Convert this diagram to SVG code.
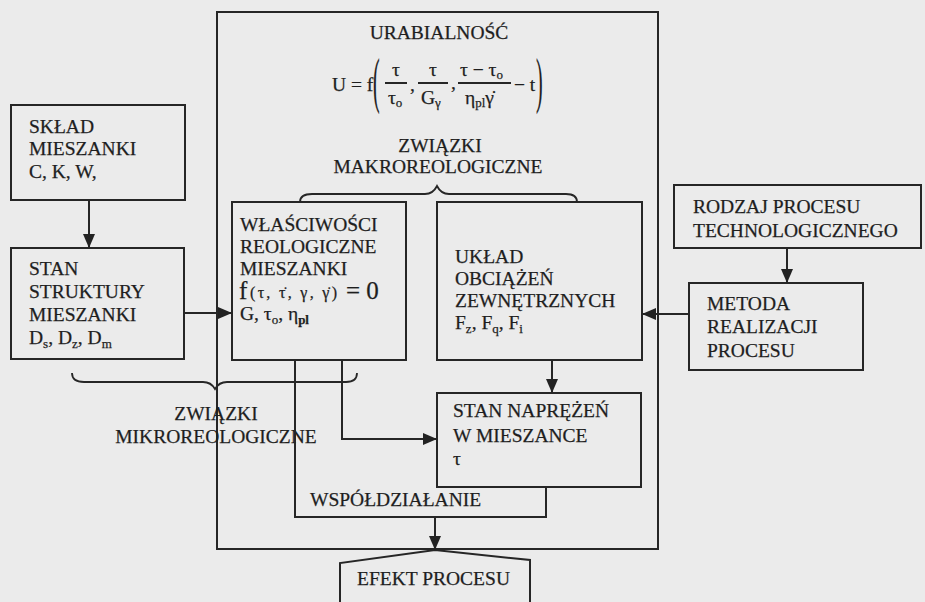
<svg xmlns="http://www.w3.org/2000/svg" width="925" height="602" viewBox="0 0 925 602">
<style>
.bg{fill:#ebebeb}
.box{fill:none;stroke:#262626;stroke-width:2}
.ln{fill:none;stroke:#262626;stroke-width:2}
.br{fill:none;stroke:#262626;stroke-width:1.8}
text{font-family:"Liberation Serif",serif;font-size:19.5px;fill:#1e1e1e;stroke:#1e1e1e;stroke-width:0.25px}
.m{text-anchor:middle}
.s{font-size:13px}
</style>
<defs>
<marker id="ah" markerWidth="14" markerHeight="12" refX="13" refY="6" orient="auto" markerUnits="userSpaceOnUse">
<path d="M0,0 L14,6 L0,12 z" fill="#222"/>
</marker>
</defs>
<rect class="bg" x="0" y="0" width="925" height="602"/>

<g id="urabialnosc">
<rect class="box" x="217" y="12" width="441" height="537"/>
<text class="m" x="439" y="39">URABIALNOŚĆ</text>
<text x="332" y="91">U = f</text>
<text transform="translate(373,101) scale(1,3.1)" style="font-size:20px;stroke-width:0.1px">(</text>
<text class="m" x="396" y="76">τ</text>
<line class="ln" x1="385" y1="83" x2="407" y2="83" stroke-width="1.2"/>
<text x="388" y="104">τ<tspan class="s" dy="3">o</tspan></text>
<text x="410" y="91">,</text>
<text class="m" x="433" y="76">τ</text>
<line class="ln" x1="418" y1="83" x2="448" y2="83" stroke-width="1.2"/>
<text x="421" y="104">G<tspan class="s" dy="3">γ</tspan></text>
<text x="451" y="89">,</text>
<text x="460" y="76">τ − τ<tspan class="s" dy="3">o</tspan></text>
<line class="ln" x1="458" y1="83" x2="511" y2="83" stroke-width="1.2"/>
<text x="465" y="104">η<tspan class="s" dy="3">pl</tspan><tspan dy="-3">γ̇</tspan></text>
<text x="514" y="91">− t</text>
<text transform="translate(536,101) scale(1,3.1)" style="font-size:20px;stroke-width:0.1px">)</text>
<text class="m" x="440" y="152">ZWIĄZKI</text>
<text class="m" x="438" y="173">MAKROREOLOGICZNE</text>
</g>

<g id="sklad">
<rect class="box" x="11" y="105" width="174" height="95"/>
<text x="29" y="133">SKŁAD</text>
<text x="29" y="155">MIESZANKI</text>
<text x="29" y="178">C, K, W,</text>
</g>

<g id="stan-struktury">
<rect class="box" x="11" y="248" width="173" height="111"/>
<text x="29" y="275">STAN</text>
<text x="29" y="298">STRUKTURY</text>
<text x="29" y="321">MIESZANKI</text>
<text x="29" y="344">D<tspan class="s" dy="4">s</tspan><tspan dy="-4">, D</tspan><tspan class="s" dy="4">z</tspan><tspan dy="-4">, D</tspan><tspan class="s" dy="4">m</tspan></text>
</g>

<g id="wlasciwosci">
<rect class="box" x="232" y="202" width="174" height="158"/>
<text x="240" y="231">WŁAŚCIWOŚCI</text>
<text x="240" y="253">REOLOGICZNE</text>
<text x="240" y="275">MIESZANKI</text>
<text x="239" y="299" style="font-size:25px">f</text>
<text x="250" y="298" style="font-size:16px" textLength="87" lengthAdjust="spacing">(τ, τ̇, γ, γ̇)</text>
<text x="346" y="299" style="font-size:25px">= 0</text>
<text x="240" y="320">G, τ<tspan class="s" dy="4">o</tspan><tspan dy="-4">, η</tspan><tspan class="s" dy="4" font-weight="bold">pl</tspan></text>
</g>

<g id="uklad">
<rect class="box" x="437" y="202" width="205" height="158"/>
<text x="455" y="263">UKŁAD</text>
<text x="455" y="285">OBCIĄŻEŃ</text>
<text x="455" y="307">ZEWNĘTRZNYCH</text>
<text x="455" y="329">F<tspan class="s" dy="4">z</tspan><tspan dy="-4">, F</tspan><tspan class="s" dy="4">q</tspan><tspan dy="-4">, F</tspan><tspan class="s" dy="4">i</tspan></text>
</g>

<g id="stan-naprezen">
<rect class="box" x="437" y="393" width="204" height="94"/>
<text x="453" y="417">STAN NAPRĘŻEŃ</text>
<text x="453" y="442">W MIESZANCE</text>
<text x="453" y="465">τ</text>
</g>

<g id="rodzaj">
<rect class="box" x="674" y="185" width="247" height="63"/>
<text x="693" y="213">RODZAJ PROCESU</text>
<text x="693" y="237">TECHNOLOGICZNEGO</text>
</g>

<g id="metoda">
<rect class="box" x="689" y="283" width="174" height="87"/>
<text x="707" y="310">METODA</text>
<text x="707" y="333">REALIZACJI</text>
<text x="707" y="357">PROCESU</text>
</g>

<g id="wspoldzialanie">
<text x="310" y="506">WSPÓŁDZIAŁANIE</text>
</g>

<g id="mikro">
<text class="m" x="216" y="420">ZWIĄZKI</text>
<text class="m" x="216" y="443">MIKROREOLOGICZNE</text>
</g>

<g id="efekt">
<path class="box" d="M340,604 L340,563 L435,550 L530,560 L530,604"/>
<text x="357" y="585">EFEKT PROCESU</text>
</g>

<g id="connectors">
<line class="ln" x1="89" y1="200" x2="89" y2="247" marker-end="url(#ah)"/>
<line class="ln" x1="184" y1="313" x2="231" y2="313" marker-end="url(#ah)"/>
<line class="ln" x1="689" y1="314" x2="643" y2="314" marker-end="url(#ah)"/>
<line class="ln" x1="787" y1="248" x2="787" y2="282" marker-end="url(#ah)"/>
<line class="ln" x1="552" y1="360" x2="552" y2="392" marker-end="url(#ah)"/>
<polyline class="ln" points="342,360 342,439 436,439" marker-end="url(#ah)"/>
<polyline class="ln" points="295,360 295,517 546,517 546,487"/>
<line class="ln" x1="435" y1="517" x2="435" y2="549" marker-end="url(#ah)"/>
<path class="br" d="M300,202 Q300,194 312,194 L425,194 Q433,194 437,186 Q441,194 449,194 L566,194 Q577,194 577,202"/>
<path class="br" d="M72,373 Q72,382 84,382 L203,382 Q211,382 215,389 Q219,382 227,382 L346,382 Q357,382 357,373"/>
</g>
</svg>
